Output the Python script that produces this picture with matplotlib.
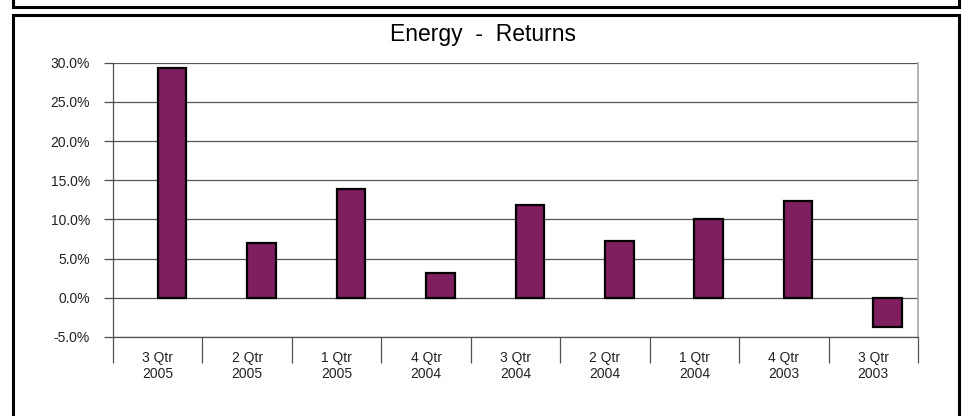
import matplotlib
matplotlib.use("Agg")
import matplotlib.pyplot as plt
from matplotlib.lines import Line2D
from matplotlib.ticker import FuncFormatter, FixedLocator

plt.rcParams['font.family'] = ['Liberation Sans', 'DejaVu Sans']

categories = ["3 Qtr\n2005", "2 Qtr\n2005", "1 Qtr\n2005", "4 Qtr\n2004", "3 Qtr\n2004",
              "2 Qtr\n2004", "1 Qtr\n2004", "4 Qtr\n2003", "3 Qtr\n2003"]
returns = [29.4, 7.0, 13.9, 3.15, 11.9, 7.3, 10.05, 12.35, -3.75]
y_ticks = [-5, 0, 5, 10, 15, 20, 25, 30]
title = "Energy  -  Returns"

W, H = 965, 416
fig = plt.figure(figsize=(W / 100, H / 100), dpi=100)

# outer frames
def fx(x): return x / W
def fy(y): return 1 - y / H
lw_box = 2.2
for xs, ys in [
    ([12.5, 12.5, 958.5, 958.5], [-5, 7, 7, -5]),
    ([12.5, 12.5, 958.5, 958.5], [425, 14.5, 14.5, 425]),
]:
    fig.add_artist(Line2D([fx(v) for v in xs], [fy(v) for v in ys], color='black',
                          lw=lw_box, transform=fig.transFigure, solid_joinstyle='miter'))

left, right, top, bottom = 113, 918, 62.8, 337
ax = fig.add_axes([fx(left), fy(bottom), (right - left) / W, (bottom - top) / H])

n = len(categories)
xpos = [i + 0.5 for i in range(n)]
ax.bar(xpos, returns, width=0.32, align='edge', color='#7F1F5F',
       edgecolor='black', linewidth=1.6, zorder=3)

ax.set_xlim(0, n)
ax.set_ylim(-5, 30)

ax.yaxis.set_major_locator(FixedLocator(y_ticks))
ax.yaxis.set_major_formatter(FuncFormatter(lambda v, p: f"{v:.1f}%"))
ax.tick_params(axis='y', which='major', direction='out', length=6.5, width=0.9,
               color='#505050', pad=10, labelsize=10, labelcolor='#222222')

ax.xaxis.set_major_locator(FixedLocator(list(range(n + 1))))
ax.xaxis.set_major_formatter(FuncFormatter(lambda v, p: ""))
ax.xaxis.set_minor_locator(FixedLocator([i + 0.5 for i in range(n)]))
ax.set_xticklabels(categories, minor=True)
ax.tick_params(axis='x', which='major', direction='out', length=19, width=0.9, color='#505050')
ax.tick_params(axis='x', which='minor', length=0, pad=10, labelsize=10, labelcolor='#222222')

ax.grid(axis='y', color='#555555', linewidth=0.9, zorder=1)
ax.set_axisbelow(True)
ax.spines['top'].set_visible(False)
ax.spines['left'].set_color('#505050')
ax.spines['left'].set_linewidth(0.9)
ax.spines['bottom'].set_color('#505050')
ax.spines['bottom'].set_linewidth(0.9)
ax.spines['right'].set_color('#a8a8a8')
ax.spines['right'].set_linewidth(1.2)

fig.text(fx(482.5), fy(34), title, ha='center', va='center', fontsize=16.5)

fig.savefig("out.png", dpi=100)
